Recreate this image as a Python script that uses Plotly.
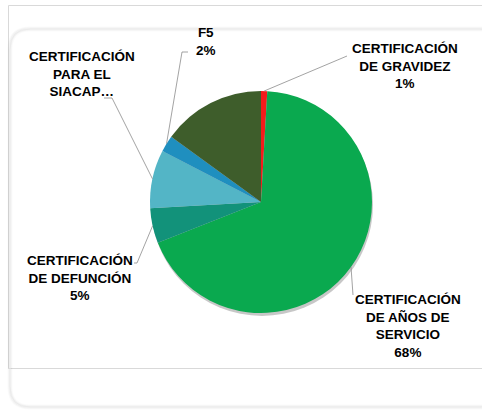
import math
import plotly.graph_objects as go

# ---- data ----
categories = [
    "CERTIFICACIÓN DE GRAVIDEZ",
    "CERTIFICACIÓN DE AÑOS DE SERVICIO",
    "CERTIFICACIÓN DE DEFUNCIÓN",
    "CERTIFICACIÓN PARA EL SIACAP",
    "F5",
    "OTROS",
]
values = [0.9, 68.1, 5.1, 8.5, 2.4, 15.0]
label_texts = [
    "CERTIFICACIÓN<br>DE GRAVIDEZ",
    "CERTIFICACIÓN<br>DE AÑOS DE<br>SERVICIO",
    "CERTIFICACIÓN<br>DE DEFUNCIÓN",
    "CERTIFICACIÓN<br>PARA EL<br>SIACAP…",
    "F5",
    None,
]
show_percent = [True, True, True, False, True, False]
colors = ["#f41b1b", "#0aa94f", "#12927a", "#53b5c6", "#1f8fbf", "#3e5d2b"]

# ---- layout geometry (pixels) ----
W, H = 482, 410
CX, CY, R = 261, 202, 111
# label centre positions and leader-line elbow points (pixels)
label_pos = [(405, 66), (408, 326), (80, 278), (82, 74), (206, 42), None]
leader_pts = [
    [(347, 56)],
    [(353, 295)],
    [(137, 263), (134, 263)],
    [(112, 98), (104, 98)],
    [(182, 52), (188, 52)],
    None,
]


def px(x):
    return x / W


def py(y):
    return 1 - y / H


fig = go.Figure()

# drop shadow behind pie
sh = 3
fig.add_trace(go.Pie(
    values=[1], labels=["s"], marker=dict(colors=["rgba(0,0,0,0.22)"]),
    textinfo="none", hoverinfo="skip", showlegend=False, sort=False,
    domain=dict(x=[px(CX - R + 1), px(CX + R + 1)], y=[py(CY + R + sh), py(CY - R + sh)]),
))

fig.add_trace(go.Pie(
    labels=categories, values=values, sort=False, direction="clockwise", rotation=0,
    marker=dict(colors=colors, line=dict(width=0)),
    textinfo="none", showlegend=False,
    domain=dict(x=[px(CX - R), px(CX + R)], y=[py(CY + R), py(CY - R)]),
))

total = sum(values)
shapes = []
annotations = []

# frame
shapes.append(dict(type="rect", xref="paper", yref="paper",
                   x0=px(8.5), x1=px(495), y0=py(368.5), y1=py(5.5),
                   line=dict(color="#d9d9d9", width=1), layer="below"))


def rounded(x0, y0, x1, y1, r):
    return (f"M {px(x0+r)},{py(y0)} L {px(x1-r)},{py(y0)} "
            f"Q {px(x1)},{py(y0)} {px(x1)},{py(y0+r)} L {px(x1)},{py(y1-r)} "
            f"Q {px(x1)},{py(y1)} {px(x1-r)},{py(y1)} L {px(x0+r)},{py(y1)} "
            f"Q {px(x0)},{py(y1)} {px(x0)},{py(y1-r)} L {px(x0)},{py(y0+r)} "
            f"Q {px(x0)},{py(y0)} {px(x0+r)},{py(y0)} Z")


for w, c in [(5, "rgba(0,0,0,0.02)"), (3, "rgba(0,0,0,0.03)"), (1, "#ebebeb")]:
    shapes.append(dict(type="path", xref="paper", yref="paper",
                       path=rounded(10, 29, 500, 407, 20),
                       line=dict(color=c, width=w), layer="below"))

cum = 0.0
for i, v in enumerate(values):
    mid = (cum + v / 2) / total
    cum += v
    if label_pos[i] is None:
        continue
    ang = 2 * math.pi * mid
    ax = CX + R * math.sin(ang)
    ay = CY - R * math.cos(ang)
    pts = [(ax, ay)] + leader_pts[i]
    path = "M " + " L ".join(f"{px(x)},{py(y)}" for x, y in pts)
    shapes.append(dict(type="path", xref="paper", yref="paper", path=path,
                       line=dict(color="#8c8c8c", width=0.8)))
    txt = label_texts[i]
    if show_percent[i]:
        txt += f"<br>{round(v / total * 100):.0f}%"
    lx, ly = label_pos[i]
    annotations.append(dict(
        x=px(lx), y=py(ly), xref="paper", yref="paper", showarrow=False,
        text=f"<b>{txt}</b>", align="center", xanchor="center", yanchor="middle",
        font=dict(family="Arial, Liberation Sans, sans-serif", size=13.5, color="#000000"),
    ))

fig.update_layout(
    width=W, height=H, margin=dict(l=0, r=0, t=0, b=0),
    paper_bgcolor="white", plot_bgcolor="white",
    shapes=shapes, annotations=annotations, showlegend=False,
)

fig.write_html("out.html")
